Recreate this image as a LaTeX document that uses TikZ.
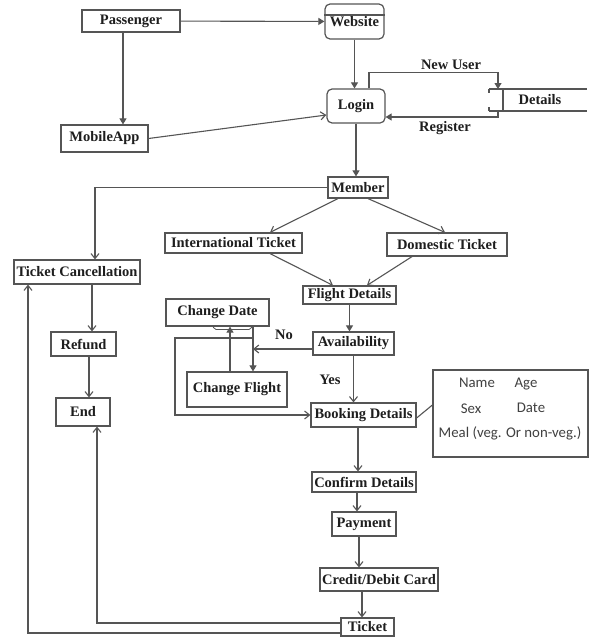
\documentclass[tikz,border=0pt]{standalone}
\usepackage{fontspec}
\setmainfont{Liberation Serif}[BoldFont={Liberation Serif Bold}]
\newfontfamily\infofont{Carlito}
\newfontfamily\boxfont{Liberation Serif Bold}
\usetikzlibrary{arrows.meta}
\definecolor{ln}{HTML}{555555}
\definecolor{tx}{HTML}{1E1E1E}
\tikzset{
  x={(1pt,0)}, y={(0,-1pt)},
  box/.style={draw=ln, line width=1.2pt, rectangle, inner sep=0pt, text=tx,
    font=\boxfont\fontsize{14.5}{16}\selectfont},
  rbox/.style={box, rounded corners=5pt},
  lbl/.style={text=tx, font=\boxfont\fontsize{14.5}{16}\selectfont, inner sep=0pt},
  conn/.style={draw=ln, line width=1.1pt},
  farr/.style={conn, -{Triangle[length=6pt,width=7pt]}},
  oarr/.style={conn, -{Straight Barb[length=5pt,width=8pt]}},
  itxt/.style={text=black!75, font=\infofont\fontsize{14.8}{16}\selectfont, inner sep=0pt}
}
\begin{document}
\begin{tikzpicture}
\useasboundingbox (0,0) rectangle (595,637);
\fill[white] (0,0) rectangle (595,637);

% nodes
\node[box, minimum width=98pt, minimum height=22pt] (pass) at (131,21) {Passenger};
\node[rbox, minimum width=59pt, minimum height=35pt] (web) at (354.5,21.5) {\raisebox{-4pt}{Website}};
\node[box, minimum width=87pt, minimum height=27pt] (mob) at (104.5,138.5) {MobileApp};
\node[rbox, minimum width=58pt, minimum height=34pt] (login) at (356,106) {Login};
\node[box, minimum width=60pt, minimum height=21pt] (member) at (358,187.5) {Member};
\node[box, minimum width=137pt, minimum height=20pt] (intl) at (233.5,243) {International Ticket};
\node[box, minimum width=120pt, minimum height=23pt] (dom) at (447,244.5) {Domestic Ticket};
\node[box, minimum width=93pt, minimum height=18pt] (flight) at (349.5,295) {Flight Details};
\node[box, minimum width=126pt, minimum height=24pt] (tcanc) at (77,272) {Ticket Cancellation};
\node[box, minimum width=103pt, minimum height=27pt] (cdate) at (217.5,312.5) {Change Date};
\node[box, minimum width=81pt, minimum height=23pt] (avail) at (353.5,343.5) {Availability};
\node[box, minimum width=100pt, minimum height=35pt] (cflight) at (237,389.5) {Change Flight};
\node[box, minimum width=105pt, minimum height=24pt] (booking) at (363.5,415) {Booking Details};
\node[box, minimum width=155pt, minimum height=87pt] (info) at (510.5,413.5) {};
\node[box, minimum width=104pt, minimum height=20pt] (confirm) at (364,482) {Confirm Details};
\node[box, minimum width=64pt, minimum height=24pt] (pay) at (364,524) {Payment};
\node[box, minimum width=118pt, minimum height=23pt] (credit) at (379,579.5) {Credit/Debit Card};
\node[box, minimum width=53pt, minimum height=18pt] (ticket) at (367.5,627) {Ticket};
\node[box, minimum width=65pt, minimum height=24pt] (refund) at (83.5,344) {Refund};
\node[box, minimum width=54pt, minimum height=28pt] (endn) at (83,412) {End};

% website top line
\draw[conn] (web.west |- 0,15) -- (web.east |- 0,15);

% details data store
\coordinate (dtop) at (498,89);
\coordinate (dbot) at (498,111);
\draw[conn] (489,89) -- (587,89);
\draw[conn] (489,111) -- (587,111);
\draw[conn] (503,89) -- (503,111);
\draw[conn] (489,89) -- (489,93) (489,107) -- (489,111);
\node[lbl] (det) at (540,100) {Details};

% info texts
\node[itxt] (iname) at (477,383) {Name};
\node[itxt] (iage) at (526,384) {Age};
\node[itxt] (isex) at (471,409) {Sex};
\node[itxt] (idate) at (531,408) {Date};
\node[itxt] (imeal) at (510,433) {Meal (veg. Or non-veg.)};

% change date bracket
\draw[ln, line width=0.8pt, rounded corners=2pt] (213,326) -- (214,329.5) -- (251,329.5) -- (252,326);

% labels
\node[lbl] (lnew) at (451,65) {New User};
\node[lbl] (lreg) at (445,128) {Register};
\node[lbl] (lno) at (284,335) {No};
\node[lbl] (lyes) at (330,380) {Yes};

% connectors
\draw[farr] (pass) -- (web);
\draw[farr] ([xshift=-8pt]pass.south) -- ([xshift=-8pt]pass.south |- mob.north);
\draw[oarr] (mob.east) -- ([yshift=-9pt]login.west);
\draw[farr] (web.south) -- (web.south |- login.north);
\draw[farr] ([xshift=13pt]login.north) -- ++(0,-16) -| (dtop);
\draw[farr] (dbot) |- ([yshift=-11pt]login.east);
\draw[farr] (login.south) -- (login.south |- member.north);
\draw[oarr] (member.west) -| ([xshift=18pt]tcanc.north);
\draw[oarr] ([xshift=-20pt]member.south) -- ([xshift=36.5pt]intl.north);
\draw[oarr] ([xshift=10pt]member.south) -- ([xshift=-2pt]dom.north);
\draw[oarr] ([xshift=36.5pt]intl.south) -- ([xshift=-16.5pt]flight.north);
\draw[oarr] ([xshift=-35pt]dom.south) -- ([xshift=17.5pt]flight.north);
\draw[farr] (flight.south) -- (flight.south |- avail.north);
\coordinate (nojoin) at (253,349);
\draw[oarr] ([yshift=-5.5pt]avail.west) -- (nojoin);
\draw[farr] ([xshift=35.5pt]cdate.south) -- ([xshift=35.5pt]cdate.south |- cflight.north);
\draw[farr] ([xshift=-7pt]cflight.north) -- ([xshift=-7pt]cflight.north |- cdate.south);
\coordinate (loopstart) at (253,338);
\draw[oarr] (loopstart) -- (175,338) |- (booking.west);
\draw[oarr] (avail.south) -- (avail.south |- booking.north);
\draw[conn] ([yshift=-3pt]booking.east) -- ([yshift=8.5pt]info.west);
\draw[oarr] ([xshift=-5.5pt]booking.south) -- ([xshift=-5.5pt]booking.south |- confirm.north);
\draw[oarr] ([xshift=-7pt]confirm.south) -- ([xshift=-7pt]confirm.south |- pay.north);
\draw[oarr] ([xshift=-5pt]pay.south) -- ([xshift=-5pt]pay.south |- credit.north);
\draw[oarr] ([xshift=-17pt]credit.south) -- ([xshift=-17pt]credit.south |- ticket.north);
\draw[oarr] ([yshift=4pt]ticket.west) -| ([xshift=14pt]endn.south);
\draw[oarr] ([yshift=-6pt]ticket.west) -| ([xshift=-49pt]tcanc.south);
\draw[oarr] ([xshift=15pt]tcanc.south) -- ([xshift=15pt]tcanc.south |- refund.north);
\draw[oarr] ([xshift=5.5pt]refund.south) -- ([xshift=5.5pt]refund.south |- endn.north);
\end{tikzpicture}
\end{document}
